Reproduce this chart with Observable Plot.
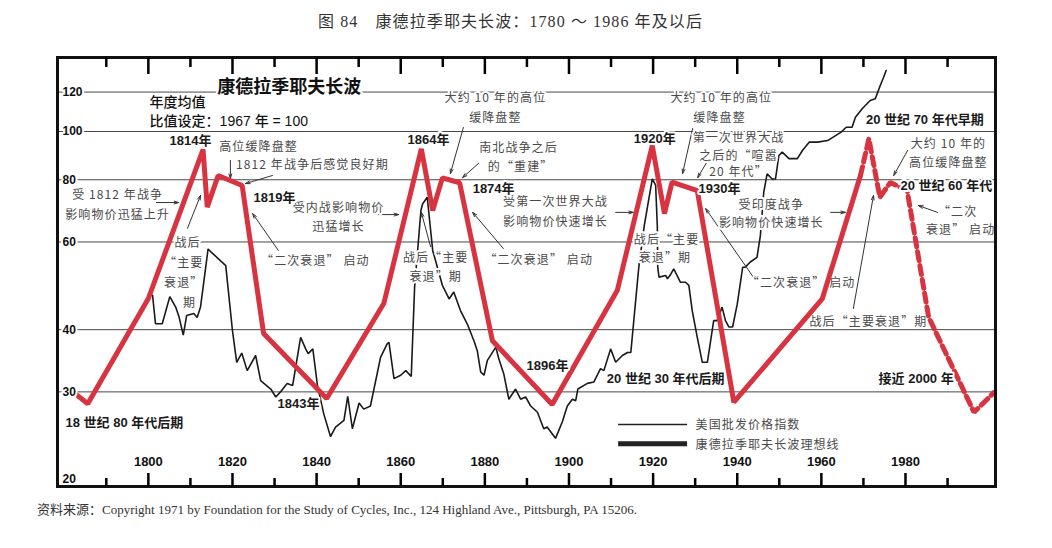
<!DOCTYPE html>
<html><head><meta charset="utf-8">
<script src="https://cdn.jsdelivr.net/npm/d3@7"></script>
<script src="https://cdn.jsdelivr.net/npm/@observablehq/plot@0.6"></script>
<style>
body{margin:0;background:#fff;width:1052px;height:548px;overflow:hidden}
#title{height:44px;line-height:44px;padding-left:318px;font-size:16px;font-family:"Liberation Serif","Noto Sans CJK SC",serif;color:#333;letter-spacing:1.1px}
#caption{height:48px;line-height:20px;padding-left:37px;font-size:13px;font-family:"Liberation Serif","Noto Sans CJK SC",serif;color:#333}
</style></head><body>
<div id="title">图 84　康德拉季耶夫长波：1780 ～ 1986 年及以后</div>
<div id="chart"></div>
<div id="caption">资料来源：Copyright 1971 by Foundation for the Study of Cycles, Inc., 124 Highland Ave., Pittsburgh, PA 15206.</div>
<script>
// ---- data ----
const majorTicks = [1800,1820,1840,1860,1880,1900,1920,1940,1960,1980];
const minorTicks = [1790,1810,1830,1850,1870,1890,1910,1930,1950,1970,1990];
const gridValues = [120,100,80,60,40,30];
const yLabels = [120,100,80,60,40,30,20];

// US wholesale price index (1967 = 100)
const priceYears = [1801.0,1801.7,1803.3,1805.1,1806.5,1807.3,1808.3,1809.1,1810.8,1811.6,1812.4,1814.2,1814.8,1818.4,1820.0,1821.0,1822.2,1823.5,1825.5,1826.7,1829.1,1830.3,1831.4,1833.0,1834.3,1836.2,1837.4,1838.0,1839.1,1840.2,1841.7,1843.3,1844.5,1846.5,1847.4,1848.5,1850.1,1851.2,1852.8,1855.2,1856.8,1857.2,1858.4,1860.0,1861.2,1862.5,1863.3,1864.8,1865.2,1866.3,1867.6,1869.9,1871.5,1872.6,1874.2,1875.8,1877.4,1878.2,1879.0,1879.8,1880.6,1882.6,1883.3,1884.5,1885.7,1887.3,1888.5,1889.7,1890.9,1892.5,1894.0,1894.8,1896.8,1898.4,1899.6,1900.8,1901.6,1902.1,1904.4,1905.9,1907.5,1908.3,1909.9,1911.1,1912.7,1913.9,1914.7,1916.6,1917.9,1919.8,1920.6,1921.0,1921.1,1921.4,1923.0,1923.4,1924.2,1924.9,1926.1,1926.5,1927.7,1928.5,1929.3,1930.5,1931.7,1932.9,1934.4,1935.2,1936.4,1937.2,1938.0,1938.9,1940.0,1941.3,1941.9,1943.1,1944.7,1945.5,1946.3,1947.1,1948.3,1949.1,1949.9,1950.7,1952.3,1954.3,1955.5,1957.1,1959.1,1961.5,1964.7,1965.9,1967.3,1968.1,1969.7,1971.6,1972.8,1974.0,1974.8,1975.4];
const priceValues = [46.9,41.1,41.1,46.6,44.4,42.4,39.0,42.7,43.1,42.3,44.4,58.1,57.4,53.8,39.8,34.4,35.9,33.1,35.5,31.6,30.4,29.3,30.0,31.2,30.9,38.6,36.6,35.8,36.6,30.9,27.1,24.4,25.5,26.3,29.4,25.3,28.5,27.7,28.1,35.2,37.5,37.7,31.9,32.4,33.1,32.2,48.7,69.4,71.5,73.8,57.7,49.1,46.1,47.6,43.7,41.1,38.0,36.3,32.9,32.4,34.7,36.9,35.0,32.6,29.0,30.4,29.0,29.3,28.1,27.3,25.3,25.5,24.2,26.1,28.1,29.0,28.8,30.4,31.2,31.4,33.4,33.1,36.6,34.4,35.5,36.0,36.0,53.4,64.7,80.3,78.0,64.7,53.4,51.0,51.4,50.6,51.7,53.0,50.6,49.8,49.8,49.1,43.7,38.6,34.4,34.4,41.7,41.7,44.4,41.7,40.5,40.5,45.0,53.4,53.4,54.7,55.9,61.8,75.5,82.2,80.3,80.3,89.5,90.9,88.2,88.2,91.6,95.2,95.2,95.9,99.7,102.0,102.0,106.8,111.1,115.4,116.3,123.7,128.5,132.6];

// Kondratieff idealized wave (solid) and projection (dashed)
const waveYears = [1782.5,1785.6,1800.0,1813.0,1814.0,1816.6,1822.3,1827.4,1842.4,1856.0,1864.9,1867.6,1869.9,1874.0,1881.8,1896.0,1911.5,1919.8,1922.7,1924.5,1930.5,1939.2,1960.2,1969.3];
const waveValues = [29.8,28.4,46.2,92.0,70.5,81.6,77.9,39.3,29.1,45.2,92.3,69.4,80.7,78.9,38.0,28.3,48.0,93.7,68.4,79.1,76.1,28.6,46.1,81.6];
const projYears = [1969.3,1971.3,1973.9,1976.4,1980.4,1985.5,1996.3,2001.0];
const projValues = [81.6,96.7,73.8,79.0,76.1,42.4,27.3,29.9];

// labels: [text, year, value]
const boldCenter = [["1814年",1810.0,95.9],["1843年",1835.7,28.4],["1864年",1866.6,96.4],["1896年",1894.9,33.9],["1920年",1920.4,96.8]];
const boldLeft = [["1819年",1825.0,73.7],["18 世纪 80 年代后期",1780.3,26.0],["1874年",1877.1,76.8],["1930年",1930.8,76.8],["20 世纪 30 年代后期",1909.0,31.9],["20 世纪 70 年代早期",1970.6,105.7],["20 世纪 60 年代",1978.8,77.9],["接近 2000 年",1973.6,31.9]];
const chartTitle = [["康德拉季耶夫长波",1816.4,122.5]];
const baseNote = [["年度均值",1800.3,114.4],["比值设定：1967 年 = 100",1800.3,104.7]];
const notes = [
 ["高位缓降盘整",1826.2,92.9],["1812 年战争后感觉良好期",1839.0,85.5],
 ["受 1812 年战争",1792.7,74.4],["影响物价迅猛上升",1792.7,67.8],
 ["受内战影响物价",1845.2,70.2],["迅猛增长",1845.2,64.2],
 ["战后",1809.3,59.6],["“主要",1808.4,54.3],["衰退”",1808.4,49.5],["期",1809.8,45.3],
 ["“二次衰退” 启动",1839.7,54.8],
 ["大约 10 年的高位",1882.5,116.5],["缓降盘整",1882.5,106.2],
 ["南北战争之后",1888.0,92.4],["的“重建”",1888.5,84.7],
 ["受第一次世界大战",1896.8,72.0],["影响物价快速增长",1896.8,65.7],
 ["战后“主要",1868.3,55.6],["衰退”期",1868.3,50.9],
 ["“二次衰退” 启动",1892.8,55.1],
 ["大约 10 年的高位",1936.2,116.5],["缓降盘整",1935.8,106.2],
 ["第一次世界大战",1940.3,96.8],["之后的“喧嚣",1940.3,89.2],["20 年代”",1940.3,82.7],
 ["受印度战争",1948.1,71.0],["影响物价快速增长",1948.1,65.4],
 ["战后“主要",1923.2,60.4],["衰退”期",1922.8,55.6],
 ["“二次衰退” 启动",1955.2,49.5],
 ["战后“主要衰退”期",1971.2,41.4],
 ["大约 10 年的",1990.2,94.2],["高位缓降盘整",1990.2,86.3],
 ["“二次",1992.4,68.8],["衰退” 启动",1993.1,63.3]
];
const legendLabels = [["美国批发价格指数",1930.1,25.7],["康德拉季耶夫长波理想线",1930.1,23.5]];
const legendThin = [{x1:1911.8,x2:1928.2,v:25.8}];
const legendThick = [{x1:1911.8,x2:1928.2,v:23.6}];
// arrows: [x1,y1,x2,y2]
const arrows = [
 [1819.5,87.5,1819.5,80.5],[1829.5,81.6,1823.1,78.6],[1801.9,72.0,1807.2,72.0],
 [1854.7,68.1,1859.5,68.1],[1809.3,63.9,1812.4,74.4],[1830.9,57.7,1824.8,68.4],
 [1874.9,101.9,1871.8,82.3],[1878.5,86.3,1874.7,80.8],[1911.1,68.8,1915.3,68.8],
 [1867.1,58.7,1864.9,68.8],[1884.4,58.2,1877.1,68.8],[1929.4,101.4,1927.0,82.3],
 [1932.7,86.6,1930.6,80.8],[1962.2,68.8,1965.7,68.8],[1943.9,50.9,1932.5,70.0],
 [1967.6,44.1,1972.4,74.4],[1980.5,91.6,1977.2,81.6],[1987.6,68.8,1983.1,71.0]
];

// ---- build ----
const yLo = 19.37, yHi = 140.8, frameH = 429;
const yFromBottom = px => yLo * Math.pow(yHi / yLo, px / frameH);
const yFromTop = px => yHi / Math.pow(yHi / yLo, px / frameH);
const price = priceYears.map((y,i)=>({year:y,value:priceValues[i]}));
const wave = waveYears.map((y,i)=>({year:y,value:waveValues[i]}));
const proj = projYears.map((y,i)=>({year:y,value:projValues[i]}));
const RED = "#d83340";
const sansBold = "Liberation Sans, Noto Sans CJK SC, sans-serif";
const NOTE = "#4a4a4a";
const lab = (arr, o) => Plot.text(arr, {x: d=>d[1], y: d=>d[2], text: d=>d[0], stroke:"white", strokeWidth:4, ...o});
const tickRule = (arr, a, b) => Plot.ruleX(arr, {x: d=>d, y1: () => a, y2: () => b, stroke:"#000", strokeWidth:2.5});

const plot = Plot.plot({
  width: 1052, height: 456,
  marginTop: 13, marginBottom: 14, marginLeft: 57, marginRight: 57,
  x: {domain: [1778.4, 2001.4], axis: null},
  y: {type: "log", domain: [yLo, yHi], axis: null},
  marks: [
    Plot.ruleY(gridValues, {stroke:"#333", strokeWidth:0.9}),
    Plot.line(price, {x:"year", y:"value", stroke:"#1a1a1a", strokeWidth:1.6, strokeLinejoin:"miter"}),
    Plot.arrow(arrows, {x1:d=>d[0], y1:d=>d[1], x2:d=>d[2], y2:d=>d[3], stroke:"#333", strokeWidth:1, headLength:7, headAngle:35}),
    lab(notes, {fill:NOTE, fontSize:12, fontFamily:"Noto Sans CJK SC, sans-serif"}),
    lab(legendLabels, {fill:NOTE, fontSize:12, fontFamily:"Noto Sans CJK SC, sans-serif", textAnchor:"start"}),
    Plot.ruleY(legendThin, {y:"v", x1:"x1", x2:"x2", stroke:"#222", strokeWidth:1.3}),
    Plot.ruleY(legendThick, {y:"v", x1:"x1", x2:"x2", stroke:"#222", strokeWidth:5}),
    Plot.line(wave, {x:"year", y:"value", stroke:RED, strokeWidth:5, strokeLinejoin:"miter"}),
    Plot.line(proj, {x:"year", y:"value", stroke:RED, strokeWidth:5, strokeDasharray:"9,5", strokeLinejoin:"miter"}),
    lab(boldCenter, {fill:"#1a1a1a", fontSize:13, fontWeight:"bold", fontFamily:sansBold}),
    lab(boldLeft, {fill:"#1a1a1a", fontSize:13, fontWeight:"bold", fontFamily:sansBold, textAnchor:"start"}),
    lab(chartTitle, {fill:"#111", fontSize:18, fontWeight:"bold", fontFamily:sansBold, textAnchor:"start"}),
    lab(baseNote, {fill:"#111", fontSize:14, fontWeight:"500", fontFamily:sansBold, textAnchor:"start"}),
    Plot.text(yLabels, {y:d=>d, text:d=>String(d), frameAnchor:"left", textAnchor:"start", dx:5, fontSize:12, fontWeight:"bold", fontFamily:sansBold, fill:"#111", stroke:"white", strokeWidth:4}),
    Plot.text(majorTicks, {x:d=>d, text:d=>String(d), frameAnchor:"bottom", dy:-21, fontSize:13, fontWeight:"bold", fontFamily:sansBold, fill:"#111"}),
    Plot.frame({stroke:"#111", strokeWidth:3}),
    tickRule(majorTicks, yLo, yFromBottom(13)),
    tickRule(minorTicks, yLo, yFromBottom(8)),
    tickRule(majorTicks, yHi, yFromTop(17)),
    tickRule(minorTicks, yHi, yFromTop(10))
  ]
});
document.getElementById("chart").appendChild(plot);
plot.querySelectorAll('g[fill="' + NOTE + '"]').forEach(g => g.style.letterSpacing = "1.1px");
</script>
</body></html>
